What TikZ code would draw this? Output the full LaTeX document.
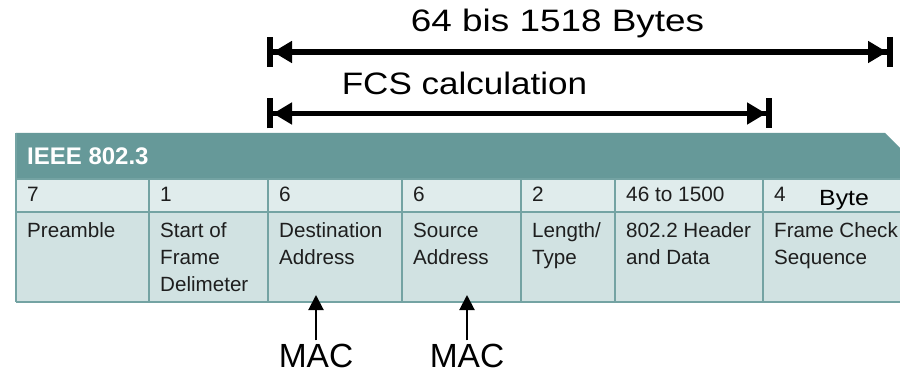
\documentclass[tikz,border=0pt]{standalone}
\usepackage{fontspec}
\usepackage{graphicx}
\setmainfont{Liberation Sans}
\usetikzlibrary{arrows.meta}

\definecolor{hdrteal}{HTML}{669999}
\definecolor{rowlight}{HTML}{E0ECEC}
\definecolor{rowmid}{HTML}{D1E2E2}
\definecolor{gridteal}{HTML}{74A3A3}
\definecolor{celltext}{HTML}{1E1E1E}

\begin{document}
\begin{tikzpicture}[x=1pt,y=-1pt,
  spanline/.style={line width=5.5pt,
    {Bar[width=30pt,line width=6pt]Triangle[length=19pt,width=21pt]}-{Triangle[length=19pt,width=21pt]Bar[width=30pt,line width=6pt]}},
  macarrow/.style={line width=2pt,-{Triangle[length=15pt,width=15pt]},shorten <=3pt},
  bigtext/.style={font=\fontsize{31}{36}\selectfont,inner sep=0pt},
  mactext/.style={font=\fontsize{33.5}{40}\selectfont,inner sep=0pt},
  hdrtext/.style={font=\fontsize{24}{28}\selectfont\bfseries,text=white,inner sep=0pt},
  numtext/.style={font=\fontsize{20.8}{25}\selectfont,text=celltext,inner sep=0pt,anchor=base west},
  celltxt/.style={font=\fontsize{20.6}{27}\selectfont,text=celltext,inner sep=0pt,anchor=north west,align=left},
  gridline/.style={draw=gridteal,line width=1.6pt}
]
\useasboundingbox (0,0) rectangle (900,374);
\fill[white] (0,0) rectangle (900,374);

% frame length spans
\coordinate (totL) at (267,52);
\coordinate (totR) at (893,52);
\coordinate (fcsL) at (267,113.5);
\coordinate (fcsR) at (772,113.5);
\node[bigtext,anchor=base] (totlabel) at (557.5,32) {\scalebox{1.19}[1]{64 bis 1518 Bytes}};
\node[bigtext,anchor=base] (fcslabel) at (464.5,95) {\scalebox{1.13}[1]{FCS calculation}};
\draw[spanline] (totL) -- (totR);
\draw[spanline] (fcsL) -- (fcsR);

% table body
\fill[hdrteal] (16,133) -- (885,133) -- (900,148) -- (900,179) -- (16,179) -- cycle;
\fill[rowlight] (16,179) rectangle (900,212);
\fill[rowmid] (16,212) rectangle (900,302);
\draw[gridline] (16,179) -- (900,179);
\draw[gridline] (16,212) -- (900,212);
\draw[gridline] (16,302) -- (900,302);
\draw[gridline] (16,133) -- (16,302);
\foreach \cx in {149,268,402,521,615,763}
  \draw[gridline] (\cx,179) -- (\cx,302);

\node[hdrtext,anchor=base west] (title) at (27,165) {IEEE 802.3};

% field sizes
\node[numtext] (szpre) at (27,202) {7};
\node[numtext] (szsfd) at (160,202) {1};
\node[numtext] (szdst) at (279,202) {6};
\node[numtext] (szsrc) at (413,202) {6};
\node[numtext] (szlen) at (532,202) {2};
\node[numtext] (szdat) at (626,202) {46 to 1500};
\node[numtext] (szfcs) at (774,202) {4};
\node[font=\fontsize{22}{26}\selectfont,inner sep=0pt,anchor=base west] (unit) at (819,206) {\scalebox{1.13}[1]{Byte}};

% field names
\node[celltxt] (fpre) at (27,218.5) {\strut Preamble};
\node[celltxt] (fsfd) at (160,218.5) {\strut Start of\\Frame\\Delimeter};
\node[celltxt] (fdst) at (279,218.5) {\strut Destination\\Address};
\node[celltxt] (fsrc) at (413,218.5) {\strut Source\\Address};
\node[celltxt] (flen) at (532,218.5) {\strut Length/\\Type};
\node[celltxt] (fdat) at (626,218.5) {\strut 802.2 Header\\and Data};
\node[celltxt] (ffcs) at (774,218.5) {\strut Frame Check\\Sequence};

% MAC address pointers
\node[mactext,anchor=base] (macdst) at (316,367) {MAC};
\node[mactext,anchor=base] (macsrc) at (467,367) {MAC};
\coordinate (dsttip) at (316,295);
\coordinate (srctip) at (467,295);
\draw[macarrow] (macdst.north) -- (dsttip);
\draw[macarrow] (macsrc.north) -- (srctip);
\end{tikzpicture}
\end{document}
